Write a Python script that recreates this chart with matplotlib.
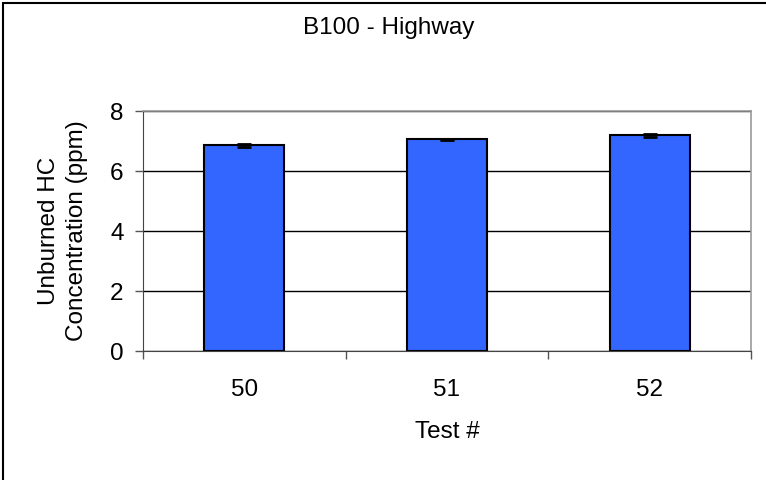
import matplotlib
matplotlib.use("Agg")
import matplotlib.pyplot as plt
from matplotlib.patches import Rectangle
import numpy as np

plt.rcParams['font.family'] = ['Liberation Sans', 'DejaVu Sans']

tests = ["50", "51", "52"]
hc_ppm = [6.86, 7.06, 7.19]
hc_err = [0.05, 0.02, 0.04]
y_ticks = [0, 2, 4, 6, 8]

FS = 17.5

fig = plt.figure(figsize=(7.66, 4.8), dpi=100)
fig.patch.set_facecolor("white")

# outer chart frame
fig.patches.append(Rectangle((3 / 766, -0.1), 1.2, 1.1 - 3 / 480,
                             transform=fig.transFigure, fill=False,
                             edgecolor="black", linewidth=1.5))

ax = fig.add_axes([143 / 766, 129 / 480, 608 / 766, 240 / 480])
x = np.arange(len(tests))
ax.bar(x, hc_ppm, width=0.395, color="#3366FF", edgecolor="black",
       linewidth=1.5, zorder=3)
ax.errorbar(x, hc_ppm, yerr=hc_err, fmt="none", ecolor="black",
            elinewidth=1.5, capsize=5, capthick=2, zorder=4)

ax.set_xlim(-0.5, len(tests) - 0.5)
ax.set_ylim(0, 8)
ax.set_yticks(y_ticks)
ax.set_yticklabels([str(v) for v in y_ticks], fontsize=FS)
ax.yaxis.grid(True, color="black", linewidth=1.0, zorder=0)
ax.set_axisbelow(True)

ax.set_xticks(x)
ax.set_xticklabels(tests, fontsize=FS)
ax.set_xticks(np.arange(-0.5, len(tests), 1.0), minor=True)
ax.tick_params(axis="x", which="major", length=0, pad=20)
ax.tick_params(axis="x", which="minor", length=6, width=1, direction="out",
               color="#555555")
ax.tick_params(axis="y", length=6, width=1, direction="out", pad=8,
               color="#555555")

for side in ("top", "right"):
    ax.spines[side].set_color("#999999")
    ax.spines[side].set_linewidth(1.2)
ax.spines["left"].set_color("#444444")
ax.spines["bottom"].set_color("#444444")

ax.set_xlabel("Test #", fontsize=FS, va="center")
ax.xaxis.set_label_coords(0.5, -(432 - 351) / 240)
ax.set_ylabel("Unburned HC\nConcentration (ppm)", fontsize=FS, va="center",
              linespacing=1.4)
ax.yaxis.set_label_coords(-(143 - 63) / 608, 0.5)

fig.text(389 / 766, 1 - 28 / 480, "B100 - Highway", fontsize=FS,
         ha="center", va="center")

fig.savefig("out.png", dpi=100)
